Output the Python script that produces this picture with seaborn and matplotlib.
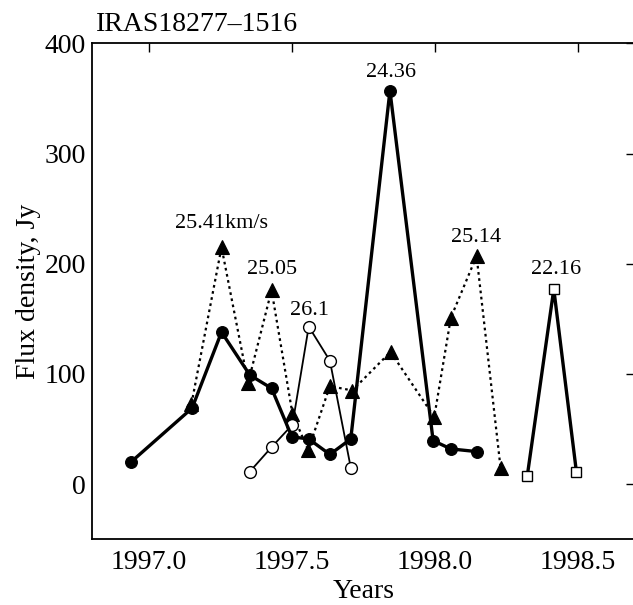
import matplotlib
matplotlib.use("Agg")
import matplotlib.pyplot as plt
import seaborn as sns
import numpy as np
import pandas as pd

# ---- data ----
filled_years = [1996.937, 1997.151, 1997.254, 1997.353, 1997.429, 1997.500,
                1997.559, 1997.633, 1997.706, 1997.843, 1997.994, 1998.056, 1998.146]
filled_flux = [20, 69, 138, 99, 87, 43, 41, 27, 41, 357, 39.5, 32, 29.6]

tri_years = [1997.149, 1997.254, 1997.347, 1997.429, 1997.502, 1997.557, 1997.633,
             1997.711, 1997.845, 1997.998, 1998.056, 1998.146, 1998.230]
tri_flux = [73, 215, 92, 176, 64, 31, 89, 85, 120, 61, 151, 207, 14.5]

open_years = [1997.353, 1997.429, 1997.502, 1997.559, 1997.633, 1997.706]
open_flux = [11.4, 33.6, 54, 143, 112, 15]

sq_years = [1998.323, 1998.416, 1998.495]
sq_flux = [7, 177, 11.4]

label_texts = ["25.41km/s", "25.05", "26.1", "24.36", "25.14", "22.16"]
label_x = [1997.255, 1997.430, 1997.563, 1997.846, 1998.143, 1998.423]
label_y = [236.7, 194.4, 157.6, 373.4, 224.0, 194.4]

x_ticks = [1997.0, 1997.5, 1998.0, 1998.5]
y_ticks = [0, 100, 200, 300, 400]

title = "IRAS18277\u20131516"

# ---- style ----
sns.set_style("white")
plt.rcParams["font.family"] = ["Liberation Serif", "DejaVu Serif"]
plt.rcParams["text.color"] = "black"
plt.rcParams["axes.labelcolor"] = "black"
plt.rcParams["xtick.color"] = "black"
plt.rcParams["ytick.color"] = "black"

fig = plt.figure(figsize=(6.33, 6.05), dpi=100)
ax = fig.add_axes([91.7 / 633, (605 - 539.3) / 605,
                   (635 - 91.7) / 633, (539.3 - 43.3) / 605])

common = dict(ax=ax, color="black", estimator=None, sort=False, legend=False)

sns.lineplot(x=tri_years, y=tri_flux, linestyle=(0, (1.2, 1.6)), linewidth=1.6,
             marker="^", markersize=9.5, markerfacecolor="black",
             markeredgecolor="black", markeredgewidth=0.8, zorder=3, **common)
sns.lineplot(x=open_years, y=open_flux, linestyle="-", linewidth=1.3,
             marker="o", markersize=8.5, markerfacecolor="white",
             markeredgecolor="black", markeredgewidth=1.0, zorder=4, **common)
sns.lineplot(x=filled_years, y=filled_flux, linestyle="-", linewidth=2.4,
             marker="o", markersize=8.5, markerfacecolor="black",
             markeredgecolor="black", markeredgewidth=0.8, zorder=5, **common)
sns.lineplot(x=sq_years, y=sq_flux, linestyle="-", linewidth=2.4,
             marker="s", markersize=7.5, markerfacecolor="white",
             markeredgecolor="black", markeredgewidth=1.0, zorder=5, **common)

for t, xx, yy in zip(label_texts, label_x, label_y):
    ax.text(xx, yy, t, ha="center", va="center", fontsize=16, color="black")

ax.set_xlim(1996.8, 1998.7)
ax.set_ylim(-50, 400)
ax.set_xticks(x_ticks)
ax.set_xticklabels([f"{v:.1f}" for v in x_ticks])
ax.set_yticks(y_ticks)
ax.set_yticklabels([str(v) for v in y_ticks])

ax.tick_params(axis="both", which="major", direction="in", length=6.5, width=1.0,
               labelsize=20, colors="black", top=True, right=True)
ax.tick_params(axis="x", pad=8)
ax.tick_params(axis="y", pad=4)
for s in ax.spines.values():
    s.set_visible(True)
    s.set_color("black")
    s.set_linewidth(1.3)

ax.set_xlabel("Years", fontsize=20, labelpad=2.5)
ax.set_ylabel("Flux density, Jy", fontsize=20, labelpad=3)
ax.text(0.008, 1.012, title, transform=ax.transAxes, ha="left", va="bottom",
        fontsize=20)

fig.savefig("out.png", dpi=100)
